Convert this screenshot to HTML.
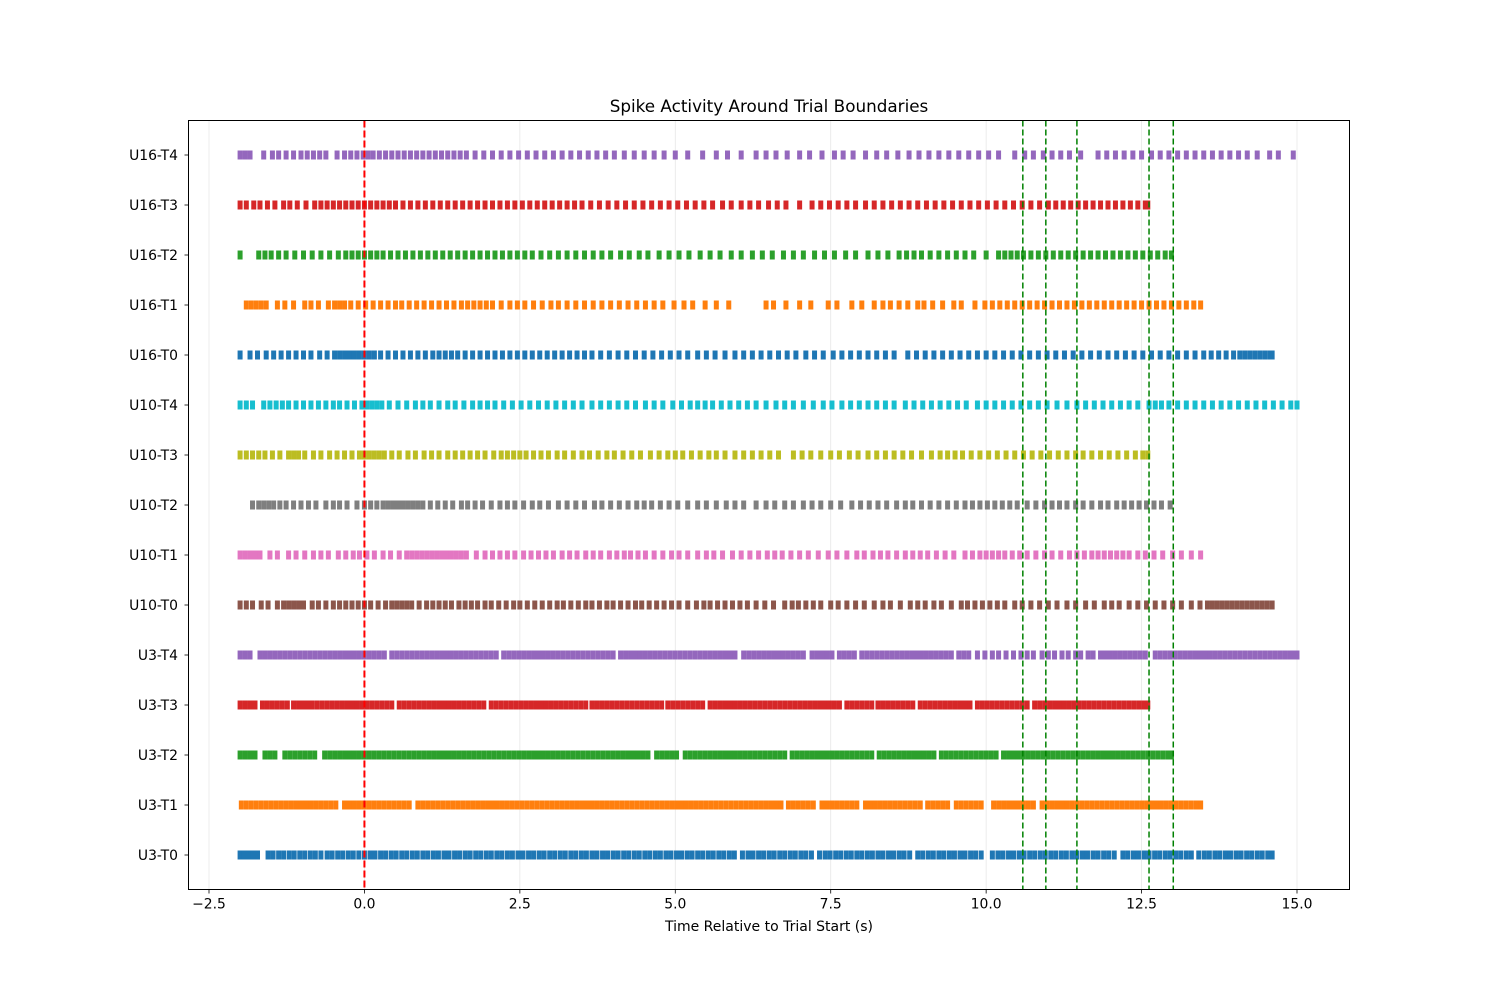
<!DOCTYPE html>
<html><head><meta charset="utf-8"><title>Spike Activity Around Trial Boundaries</title>
<style>
html,body{margin:0;padding:0;background:#fff;}
svg{display:block;font-family:"DejaVu Sans","Liberation Sans",sans-serif;}
</style></head>
<body>
<svg id="chart" width="1500" height="1000" viewBox="0 0 1500 1000" xmlns="http://www.w3.org/2000/svg">
<rect width="1500" height="1000" fill="#fff"/>
<text x="769" y="112" text-anchor="middle" font-size="16.8" fill="#000">Spike Activity Around Trial Boundaries</text>
<g id="grid"></g>
<g id="marks"></g>
<g id="refs"></g>
<rect x="188.5" y="120.5" width="1161" height="769" fill="none" stroke="#000" stroke-width="1"/>
<g id="xticks"></g>
<g id="yticks"></g>
<text x="769" y="931" text-anchor="middle" font-size="14" fill="#000">Time Relative to Trial Start (s)</text>
</svg>
<script>
const rowLabels=["U3-T0","U3-T1","U3-T2","U3-T3","U3-T4","U10-T0","U10-T1","U10-T2","U10-T3","U10-T4","U16-T0","U16-T1","U16-T2","U16-T3","U16-T4"];
const rowColors=["#1f77b4","#ff7f0e","#2ca02c","#d62728","#9467bd","#8c564b","#e377c2","#7f7f7f","#bcbd22","#17becf","#1f77b4","#ff7f0e","#2ca02c","#d62728","#9467bd"];
const xTickValues=[-2.5,0,2.5,5,7.5,10,12.5,15];
const xTickLabels=["−2.5","0.0","2.5","5.0","7.5","10.0","12.5","15.0"];
const trialStart=[0];
const boundaries=[10.59,10.96,11.46,12.62,13.01];
const spikesU3T0=[-2.0,-1.93,-1.86,-1.79,-1.72,-1.55,-1.47,-1.38,-1.3,-1.21,-1.13,-1.04,-0.96,-0.87,-0.79,-0.7,-0.6,-0.52,-0.43,-0.35,-0.26,-0.18,-0.09,0.0,0.09,0.17,0.26,0.34,0.43,0.51,0.6,0.68,0.77,0.85,0.94,1.02,1.11,1.19,1.28,1.36,1.45,1.53,1.62,1.7,1.79,1.87,1.96,2.04,2.13,2.21,2.3,2.38,2.47,2.55,2.64,2.72,2.81,2.89,2.98,3.06,3.15,3.23,3.32,3.4,3.49,3.57,3.66,3.74,3.83,3.91,4.0,4.08,4.17,4.25,4.34,4.42,4.51,4.59,4.68,4.76,4.85,4.93,5.02,5.1,5.19,5.27,5.36,5.44,5.53,5.61,5.7,5.78,5.87,5.95,6.08,6.17,6.25,6.34,6.42,6.51,6.59,6.68,6.76,6.85,6.93,7.02,7.1,7.19,7.32,7.41,7.49,7.58,7.66,7.75,7.83,7.92,8.0,8.09,8.17,8.26,8.34,8.43,8.51,8.6,8.68,8.77,8.9,8.98,9.07,9.15,9.24,9.32,9.41,9.49,9.58,9.66,9.75,9.83,9.92,10.1,10.19,10.27,10.36,10.44,10.53,10.61,10.7,10.78,10.87,10.95,11.04,11.12,11.21,11.29,11.38,11.46,11.55,11.63,11.72,11.8,11.89,11.97,12.06,12.2,12.28,12.37,12.45,12.54,12.62,12.71,12.79,12.88,12.96,13.05,13.13,13.22,13.3,13.42,13.51,13.59,13.68,13.76,13.85,13.93,14.02,14.1,14.19,14.27,14.36,14.44,14.53,14.6];
const spikesU3T1=[-1.98,-1.9,-1.82,-1.74,-1.66,-1.58,-1.5,-1.42,-1.34,-1.26,-1.18,-1.1,-1.02,-0.94,-0.86,-0.78,-0.7,-0.62,-0.54,-0.46,-0.32,-0.24,-0.16,-0.08,0.0,0.08,0.16,0.24,0.32,0.4,0.48,0.56,0.64,0.72,0.86,0.94,1.02,1.1,1.18,1.26,1.34,1.42,1.5,1.58,1.66,1.74,1.82,1.9,1.98,2.06,2.14,2.22,2.3,2.38,2.46,2.54,2.62,2.7,2.78,2.86,2.94,3.02,3.1,3.18,3.26,3.34,3.42,3.5,3.58,3.66,3.74,3.82,3.9,3.98,4.06,4.14,4.22,4.3,4.38,4.46,4.54,4.62,4.7,4.78,4.86,4.94,5.02,5.1,5.18,5.26,5.34,5.42,5.5,5.58,5.66,5.74,5.82,5.9,5.98,6.06,6.14,6.22,6.3,6.38,6.46,6.54,6.62,6.7,6.82,6.9,6.98,7.06,7.14,7.22,7.36,7.44,7.52,7.6,7.68,7.76,7.84,7.92,8.06,8.14,8.22,8.3,8.38,8.46,8.54,8.62,8.7,8.78,8.86,8.94,9.06,9.14,9.22,9.3,9.38,9.52,9.6,9.68,9.76,9.84,9.92,10.12,10.2,10.28,10.36,10.44,10.52,10.6,10.68,10.76,10.9,10.98,11.06,11.14,11.22,11.3,11.38,11.46,11.54,11.62,11.7,11.78,11.86,11.94,12.02,12.1,12.18,12.26,12.34,12.42,12.5,12.58,12.66,12.74,12.82,12.9,12.98,13.06,13.14,13.22,13.3,13.38,13.45];
const spikesU3T2=[-2.0,-1.92,-1.84,-1.76,-1.6,-1.52,-1.44,-1.28,-1.2,-1.12,-1.04,-0.96,-0.88,-0.8,-0.64,-0.56,-0.48,-0.4,-0.32,-0.24,-0.16,-0.08,0.0,0.08,0.16,0.24,0.32,0.4,0.48,0.56,0.64,0.72,0.8,0.88,0.96,1.04,1.12,1.2,1.28,1.36,1.44,1.52,1.6,1.68,1.76,1.84,1.92,2.0,2.08,2.16,2.24,2.32,2.4,2.48,2.56,2.64,2.72,2.8,2.88,2.96,3.04,3.12,3.2,3.28,3.36,3.44,3.52,3.6,3.68,3.76,3.84,3.92,4.0,4.08,4.16,4.24,4.32,4.4,4.48,4.56,4.7,4.78,4.86,4.94,5.02,5.16,5.24,5.32,5.4,5.48,5.56,5.64,5.72,5.8,5.88,5.96,6.04,6.12,6.2,6.28,6.36,6.44,6.52,6.6,6.68,6.76,6.88,6.96,7.04,7.12,7.2,7.28,7.36,7.44,7.52,7.6,7.68,7.76,7.84,7.92,8.0,8.08,8.16,8.28,8.36,8.44,8.52,8.6,8.68,8.76,8.84,8.92,9.0,9.08,9.16,9.28,9.36,9.44,9.52,9.6,9.68,9.76,9.84,9.92,10.0,10.08,10.16,10.28,10.36,10.44,10.52,10.6,10.68,10.76,10.84,10.92,11.0,11.08,11.16,11.24,11.32,11.4,11.48,11.56,11.64,11.72,11.8,11.88,11.96,12.04,12.12,12.2,12.28,12.36,12.44,12.52,12.6,12.68,12.76,12.84,12.92,12.98];
const spikesU3T3=[-2.0,-1.92,-1.84,-1.76,-1.64,-1.56,-1.48,-1.4,-1.32,-1.24,-1.14,-1.06,-0.98,-0.9,-0.84,-0.76,-0.68,-0.6,-0.52,-0.44,-0.36,-0.28,-0.2,-0.12,-0.04,0.04,0.12,0.2,0.28,0.36,0.44,0.56,0.64,0.72,0.8,0.88,0.96,1.04,1.12,1.2,1.28,1.36,1.44,1.52,1.6,1.68,1.76,1.84,1.92,2.04,2.12,2.2,2.28,2.36,2.44,2.52,2.6,2.68,2.76,2.84,2.92,3.0,3.08,3.16,3.24,3.32,3.4,3.48,3.56,3.66,3.74,3.82,3.9,3.98,4.06,4.14,4.22,4.3,4.38,4.46,4.54,4.62,4.7,4.78,4.88,4.96,5.04,5.12,5.2,5.28,5.36,5.44,5.56,5.64,5.72,5.8,5.88,5.96,6.04,6.12,6.2,6.28,6.36,6.44,6.52,6.6,6.68,6.76,6.84,6.92,7.0,7.08,7.16,7.24,7.32,7.4,7.48,7.56,7.64,7.76,7.84,7.92,8.0,8.08,8.16,8.26,8.34,8.42,8.5,8.58,8.66,8.74,8.82,8.94,9.02,9.1,9.18,9.26,9.34,9.42,9.5,9.58,9.66,9.74,9.86,9.94,10.02,10.1,10.18,10.26,10.34,10.42,10.5,10.58,10.66,10.78,10.86,10.94,11.02,11.1,11.18,11.26,11.34,11.42,11.5,11.58,11.66,11.74,11.82,11.9,11.98,12.06,12.14,12.22,12.3,12.38,12.46,12.54,12.6];
const spikesU3T4=[-2.0,-1.92,-1.84,-1.68,-1.6,-1.52,-1.44,-1.36,-1.28,-1.2,-1.12,-1.04,-0.96,-0.88,-0.8,-0.72,-0.64,-0.56,-0.48,-0.4,-0.32,-0.24,-0.16,-0.08,0.0,0.08,0.16,0.24,0.32,0.44,0.52,0.6,0.68,0.76,0.84,0.92,1.0,1.08,1.16,1.24,1.32,1.4,1.48,1.56,1.64,1.72,1.8,1.88,1.96,2.04,2.12,2.24,2.32,2.4,2.48,2.56,2.64,2.72,2.8,2.88,2.96,3.04,3.12,3.2,3.28,3.36,3.44,3.52,3.6,3.68,3.76,3.84,3.92,4.0,4.12,4.2,4.28,4.36,4.44,4.52,4.6,4.68,4.76,4.84,4.92,5.0,5.08,5.16,5.24,5.32,5.4,5.48,5.56,5.64,5.72,5.8,5.88,5.96,6.1,6.18,6.26,6.34,6.42,6.5,6.58,6.66,6.74,6.82,6.9,6.98,7.06,7.2,7.28,7.36,7.44,7.52,7.64,7.72,7.8,7.88,8.0,8.08,8.16,8.24,8.32,8.4,8.48,8.56,8.64,8.72,8.8,8.88,8.96,9.04,9.12,9.2,9.28,9.36,9.44,9.56,9.64,9.72,9.86,9.98,10.1,10.2,10.32,10.44,10.56,10.66,10.76,10.9,11.0,11.1,11.22,11.32,11.44,11.52,11.64,11.72,11.84,11.92,12.0,12.08,12.16,12.24,12.32,12.4,12.48,12.56,12.72,12.8,12.88,12.96,13.04,13.12,13.2,13.28,13.36,13.44,13.52,13.6,13.68,13.76,13.84,13.92,14.0,14.08,14.16,14.24,14.32,14.4,14.48,14.56,14.64,14.72,14.8,14.88,14.96,15.0];
const spikesU10T0=[-2.0,-1.9,-1.8,-1.66,-1.55,-1.4,-1.3,-1.22,-1.14,-1.06,-0.98,-0.84,-0.74,-0.62,-0.5,-0.4,-0.3,-0.2,-0.1,0.0,0.1,0.22,0.34,0.44,0.52,0.6,0.68,0.76,0.88,1.0,1.1,1.2,1.3,1.4,1.52,1.62,1.72,1.82,1.94,2.04,2.16,2.28,2.4,2.5,2.62,2.74,2.86,2.98,3.1,3.2,3.32,3.44,3.56,3.66,3.78,3.9,4.0,4.12,4.24,4.36,4.46,4.58,4.7,4.82,4.94,5.06,5.2,5.34,5.46,5.56,5.68,5.8,5.92,6.04,6.16,6.3,6.44,6.58,6.76,6.88,6.98,7.1,7.22,7.34,7.5,7.62,7.76,7.9,8.04,8.2,8.34,8.46,8.62,8.78,8.9,9.02,9.16,9.28,9.44,9.6,9.7,9.82,9.94,10.06,10.18,10.3,10.46,10.58,10.72,10.86,11.0,11.14,11.3,11.44,11.6,11.74,11.9,12.02,12.14,12.3,12.44,12.58,12.72,12.86,13.0,13.14,13.3,13.44,13.56,13.64,13.72,13.8,13.88,13.96,14.04,14.12,14.2,14.28,14.36,14.44,14.52,14.6];
const spikesU10T1=[-2.0,-1.92,-1.84,-1.76,-1.68,-1.52,-1.4,-1.22,-1.1,-0.96,-0.82,-0.7,-0.58,-0.42,-0.3,-0.18,-0.08,0.04,0.16,0.3,0.42,0.56,0.68,0.76,0.84,0.92,1.0,1.08,1.16,1.24,1.32,1.4,1.48,1.56,1.64,1.8,1.94,2.06,2.18,2.3,2.42,2.56,2.68,2.8,2.92,3.04,3.18,3.3,3.42,3.56,3.68,3.8,3.94,4.06,4.18,4.28,4.4,4.52,4.66,4.8,4.94,5.06,5.2,5.36,5.5,5.62,5.76,5.92,6.06,6.2,6.34,6.48,6.6,6.72,6.86,7.0,7.14,7.3,7.46,7.6,7.76,7.92,8.04,8.18,8.3,8.42,8.56,8.7,8.82,8.94,9.06,9.2,9.34,9.48,9.66,9.78,9.9,10.0,10.1,10.2,10.3,10.42,10.54,10.66,10.8,10.94,11.06,11.2,11.34,11.46,11.58,11.7,11.8,11.9,12.0,12.1,12.2,12.3,12.44,12.56,12.7,12.84,13.0,13.14,13.3,13.45];
const spikesU10T2=[-1.8,-1.7,-1.62,-1.54,-1.46,-1.36,-1.26,-1.14,-1.02,-0.9,-0.78,-0.62,-0.5,-0.4,-0.28,-0.12,0.0,0.1,0.2,0.3,0.38,0.46,0.54,0.62,0.7,0.78,0.86,0.94,1.06,1.18,1.3,1.42,1.56,1.66,1.78,1.9,2.04,2.18,2.3,2.42,2.56,2.7,2.82,2.96,3.12,3.26,3.4,3.54,3.7,3.82,3.96,4.1,4.24,4.38,4.5,4.62,4.76,4.9,5.04,5.2,5.36,5.5,5.66,5.82,5.96,6.1,6.3,6.46,6.6,6.76,6.9,7.06,7.2,7.34,7.5,7.66,7.84,7.98,8.12,8.26,8.4,8.56,8.7,8.82,8.96,9.1,9.24,9.38,9.52,9.66,9.78,9.9,10.02,10.14,10.26,10.38,10.5,10.66,10.8,10.94,11.06,11.18,11.3,11.44,11.56,11.7,11.84,11.96,12.1,12.22,12.34,12.46,12.58,12.7,12.82,12.96];
const spikesU10T3=[-2.0,-1.9,-1.8,-1.7,-1.6,-1.48,-1.36,-1.22,-1.14,-1.06,-0.96,-0.82,-0.7,-0.56,-0.44,-0.32,-0.2,-0.08,0.0,0.08,0.16,0.24,0.32,0.44,0.56,0.7,0.82,0.96,1.08,1.2,1.34,1.46,1.58,1.7,1.82,1.94,2.08,2.2,2.3,2.4,2.5,2.6,2.72,2.84,2.96,3.1,3.22,3.36,3.5,3.62,3.76,3.9,4.02,4.16,4.3,4.44,4.6,4.74,4.88,5.0,5.12,5.26,5.4,5.54,5.66,5.8,5.96,6.1,6.24,6.38,6.52,6.66,6.9,7.04,7.18,7.34,7.5,7.64,7.8,7.94,8.1,8.24,8.38,8.52,8.66,8.8,8.96,9.12,9.26,9.38,9.5,9.62,9.76,9.9,10.04,10.18,10.32,10.46,10.6,10.74,10.88,11.02,11.16,11.3,11.44,11.56,11.7,11.84,11.98,12.12,12.26,12.4,12.52,12.6];
const spikesU10T4=[-2.0,-1.9,-1.8,-1.62,-1.52,-1.42,-1.32,-1.22,-1.1,-0.98,-0.86,-0.74,-0.62,-0.5,-0.4,-0.28,-0.16,-0.04,0.04,0.12,0.2,0.28,0.4,0.54,0.68,0.82,0.94,1.06,1.2,1.34,1.46,1.6,1.74,1.86,1.98,2.1,2.24,2.38,2.52,2.66,2.8,2.94,3.08,3.22,3.36,3.5,3.66,3.8,3.94,4.08,4.22,4.36,4.52,4.66,4.8,4.96,5.1,5.24,5.36,5.48,5.6,5.74,5.88,6.02,6.16,6.3,6.46,6.62,6.76,6.9,7.06,7.22,7.38,7.52,7.68,7.82,7.96,8.1,8.24,8.38,8.52,8.7,8.84,8.98,9.12,9.26,9.4,9.54,9.68,9.86,10.0,10.14,10.28,10.42,10.56,10.7,10.84,10.98,11.14,11.3,11.46,11.6,11.74,11.88,12.02,12.16,12.3,12.44,12.62,12.72,12.82,12.94,13.08,13.22,13.36,13.5,13.64,13.78,13.92,14.06,14.2,14.34,14.48,14.62,14.76,14.9,15.0];
const spikesU16T0=[-2.0,-1.84,-1.72,-1.58,-1.46,-1.34,-1.22,-1.1,-0.98,-0.86,-0.72,-0.6,-0.48,-0.4,-0.32,-0.24,-0.16,-0.08,0.0,0.08,0.16,0.26,0.38,0.5,0.62,0.74,0.86,0.98,1.1,1.2,1.3,1.4,1.5,1.62,1.74,1.86,1.98,2.1,2.22,2.34,2.46,2.58,2.7,2.82,2.94,3.06,3.18,3.3,3.42,3.54,3.66,3.8,3.94,4.08,4.22,4.36,4.5,4.64,4.78,4.92,5.06,5.2,5.36,5.5,5.64,5.8,5.96,6.1,6.24,6.38,6.52,6.66,6.8,6.94,7.1,7.24,7.38,7.54,7.68,7.82,7.96,8.1,8.24,8.38,8.52,8.74,8.88,9.02,9.16,9.3,9.44,9.58,9.72,9.86,10.0,10.14,10.28,10.42,10.56,10.7,10.84,10.98,11.12,11.26,11.4,11.54,11.68,11.82,11.96,12.1,12.24,12.38,12.52,12.66,12.8,12.94,13.08,13.22,13.36,13.5,13.62,13.74,13.86,13.98,14.08,14.16,14.24,14.32,14.4,14.48,14.56,14.6];
const spikesU16T1=[-1.9,-1.82,-1.74,-1.66,-1.58,-1.4,-1.28,-1.14,-0.96,-0.86,-0.74,-0.58,-0.48,-0.4,-0.32,-0.22,-0.1,0.02,0.14,0.26,0.38,0.5,0.6,0.72,0.84,0.96,1.08,1.2,1.32,1.44,1.56,1.66,1.76,1.86,1.96,2.06,2.2,2.34,2.46,2.58,2.72,2.86,3.0,3.12,3.26,3.4,3.54,3.68,3.82,3.96,4.1,4.24,4.38,4.52,4.66,4.8,4.98,5.14,5.28,5.48,5.66,5.86,6.46,6.58,6.78,7.0,7.18,7.46,7.6,7.84,8.0,8.2,8.34,8.46,8.6,8.74,8.9,9.0,9.14,9.3,9.48,9.6,9.82,9.98,10.1,10.22,10.34,10.46,10.58,10.7,10.82,10.94,11.06,11.18,11.3,11.42,11.54,11.66,11.78,11.9,12.02,12.14,12.26,12.38,12.5,12.62,12.74,12.86,12.98,13.1,13.22,13.34,13.45];
const spikesU16T2=[-2.0,-1.7,-1.6,-1.5,-1.38,-1.26,-1.12,-0.98,-0.84,-0.7,-0.56,-0.42,-0.3,-0.2,-0.1,0.0,0.1,0.2,0.3,0.42,0.54,0.66,0.78,0.9,1.02,1.14,1.26,1.38,1.5,1.62,1.74,1.86,1.98,2.1,2.22,2.34,2.46,2.58,2.7,2.84,2.98,3.12,3.26,3.4,3.54,3.68,3.82,3.96,4.12,4.26,4.42,4.56,4.74,4.9,5.06,5.22,5.4,5.56,5.72,5.9,6.06,6.24,6.4,6.56,6.74,6.9,7.06,7.24,7.4,7.56,7.74,7.9,8.1,8.26,8.42,8.6,8.72,8.84,8.96,9.1,9.24,9.38,9.52,9.66,9.8,10.0,10.2,10.3,10.4,10.5,10.6,10.72,10.84,10.96,11.08,11.2,11.32,11.44,11.56,11.68,11.8,11.92,12.04,12.16,12.28,12.4,12.52,12.64,12.76,12.88,12.98];
const spikesU16T3=[-2.0,-1.9,-1.78,-1.68,-1.56,-1.44,-1.3,-1.2,-1.08,-0.94,-0.8,-0.7,-0.6,-0.5,-0.4,-0.3,-0.2,-0.1,0.0,0.1,0.2,0.3,0.4,0.5,0.62,0.74,0.86,0.98,1.1,1.22,1.34,1.46,1.58,1.7,1.82,1.94,2.06,2.18,2.3,2.42,2.54,2.66,2.78,2.9,3.02,3.14,3.26,3.38,3.5,3.64,3.78,3.92,4.06,4.2,4.34,4.48,4.62,4.76,4.9,5.04,5.18,5.32,5.46,5.6,5.76,5.9,6.06,6.2,6.34,6.5,6.64,6.78,7.0,7.2,7.34,7.48,7.62,7.76,7.9,8.06,8.2,8.34,8.48,8.62,8.76,8.9,9.04,9.18,9.32,9.46,9.6,9.74,9.88,10.02,10.16,10.3,10.44,10.58,10.72,10.86,11.0,11.12,11.24,11.36,11.48,11.6,11.72,11.84,11.96,12.08,12.2,12.32,12.44,12.56,12.6];
const spikesU16T4=[-2.0,-1.92,-1.84,-1.62,-1.48,-1.38,-1.26,-1.14,-1.02,-0.92,-0.82,-0.72,-0.62,-0.44,-0.32,-0.22,-0.12,-0.02,0.06,0.14,0.24,0.34,0.44,0.54,0.64,0.74,0.84,0.94,1.04,1.14,1.24,1.34,1.44,1.54,1.64,1.78,1.92,2.06,2.2,2.34,2.48,2.62,2.76,2.9,3.04,3.18,3.32,3.46,3.6,3.74,3.88,4.02,4.18,4.34,4.5,4.66,4.82,5.0,5.2,5.44,5.66,5.84,6.06,6.3,6.46,6.62,6.8,7.0,7.16,7.36,7.56,7.7,7.86,8.06,8.24,8.4,8.58,8.76,8.92,9.08,9.24,9.4,9.56,9.72,9.88,10.04,10.2,10.46,10.62,10.76,10.92,11.06,11.2,11.34,11.52,11.8,11.94,12.08,12.22,12.36,12.5,12.66,12.8,12.94,13.08,13.22,13.36,13.5,13.64,13.78,13.92,14.06,14.2,14.36,14.56,14.7,14.94];
const rowSpikes=[spikesU3T0,spikesU3T1,spikesU3T2,spikesU3T3,spikesU3T4,spikesU10T0,spikesU10T1,spikesU10T2,spikesU10T3,spikesU10T4,spikesU16T0,spikesU16T1,spikesU16T2,spikesU16T3,spikesU16T4];

const NS="http://www.w3.org/2000/svg";
const PL=188.5,PR=1349.5,PT=120.5,PB=889.5;
const X0=-2.5,X1=15.0,PX0=209,PX1=1297;
function xScale(v){return PX0+(v-X0)*(PX1-PX0)/(X1-X0);}
function yScale(i){return 855-i*50;}
function mk(tag,attrs,parent){const e=document.createElementNS(NS,tag);for(const k in attrs)e.setAttribute(k,attrs[k]);parent.appendChild(e);return e;}

const grid=document.getElementById('grid'),xt=document.getElementById('xticks'),yt=document.getElementById('yticks');
xTickValues.forEach((v,i)=>{
  const x=xScale(v);
  const g=mk('line',{x1:x,x2:x,y1:PT,y2:PB,stroke:'#b0b0b0','stroke-opacity':0.3,'stroke-width':0.8},grid);
  
  
  const t=mk('line',{x1:x,x2:x,y1:PB,y2:PB+4,stroke:'#000','stroke-width':0.8},xt);
  
  
  const l=mk('text',{x:x,y:PB+19,'text-anchor':'middle','font-size':13.9,fill:'#000'},xt);
  l.textContent=xTickLabels[i];
  
  
});
rowLabels.forEach((lab,i)=>{
  const y=yScale(i);
  const t=mk('line',{x1:PL-4,x2:PL,y1:y,y2:y,stroke:'#000','stroke-width':0.8},yt);
  
  
  const l=mk('text',{x:PL-10.5,y:y+5,'text-anchor':'end','font-size':13.9,fill:'#000'},yt);
  l.textContent=lab;
  
  
});
const marks=document.getElementById('marks');
rowSpikes.forEach((arr,i)=>{
  const g=mk('g',{stroke:rowColors[i],'stroke-width':5},marks);
  
  
  const y=yScale(i);
  arr.forEach(t=>{
    const x=xScale(t);
    const s=mk('line',{x1:x,x2:x,y1:y-4.5,y2:y+4.5},g);
    
    
  });
});
const refs=document.getElementById('refs');
trialStart.forEach(v=>{
  const x=xScale(v);
  const l=mk('line',{x1:x,x2:x,y1:PT,y2:PB,stroke:'#ff0000','stroke-width':2,'stroke-dasharray':'7,3'},refs);
  
  
});
boundaries.forEach(v=>{
  const x=xScale(v);
  const l=mk('line',{x1:x,x2:x,y1:PT,y2:PB,stroke:'#008000','stroke-width':1.5,'stroke-dasharray':'6,3'},refs);
  
  
});
</script>
</body></html>
